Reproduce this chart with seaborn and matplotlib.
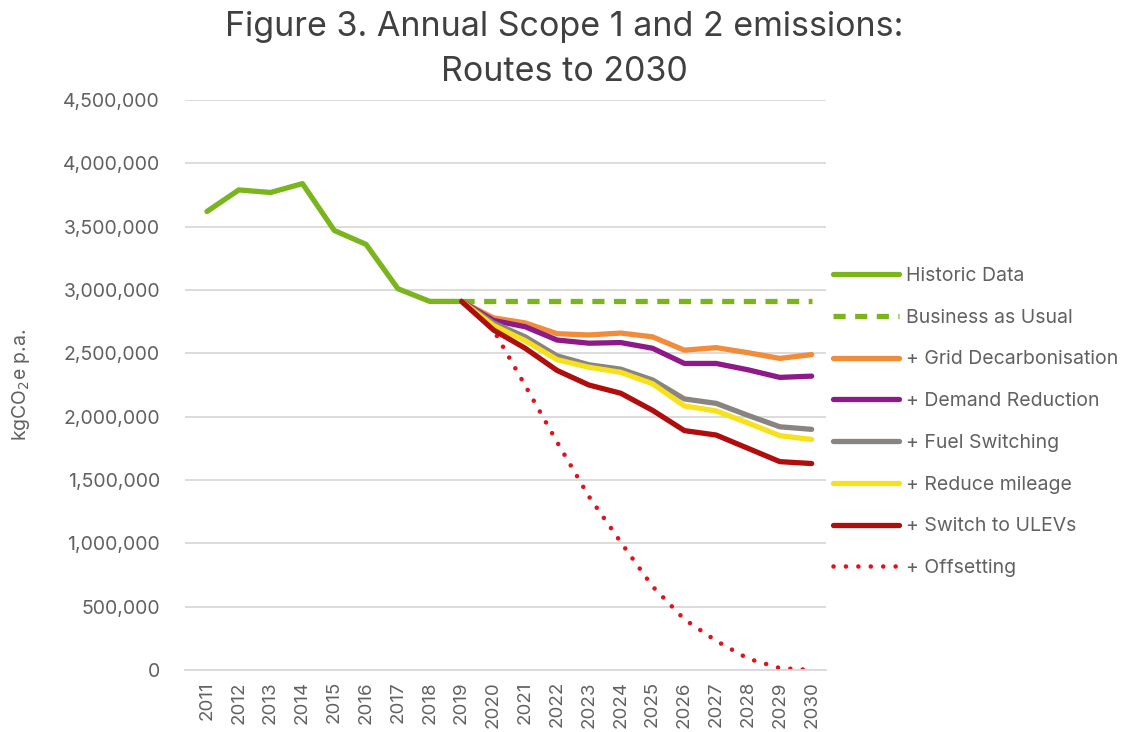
import matplotlib
matplotlib.use("Agg")
import matplotlib.pyplot as plt
import matplotlib.ticker as mticker
from matplotlib.lines import Line2D
import seaborn as sns

# Annual Scope 1 and 2 emissions (kgCO2e p.a.)
hist_years = list(range(2011, 2020))
historic = [3620000, 3790000, 3770000, 3840000, 3470000, 3360000, 3010000, 2910000, 2910000]

proj_years = list(range(2019, 2031))
business_as_usual = [2910000] * 12
grid_decarb = [2910000, 2780000, 2740000, 2655000, 2645000, 2660000, 2630000, 2525000, 2545000, 2505000, 2460000, 2490000]
demand_red = [2910000, 2760000, 2710000, 2605000, 2580000, 2585000, 2540000, 2420000, 2420000, 2370000, 2310000, 2320000]
fuel_switch = [2910000, 2740000, 2630000, 2480000, 2410000, 2375000, 2290000, 2140000, 2105000, 2010000, 1920000, 1900000]
reduce_mileage = [2910000, 2720000, 2600000, 2450000, 2390000, 2350000, 2260000, 2085000, 2045000, 1950000, 1850000, 1820000]
switch_ulev = [2910000, 2685000, 2540000, 2365000, 2250000, 2185000, 2050000, 1890000, 1855000, 1750000, 1645000, 1630000]
offsetting = [2910000, 2685000, 2245000, 1800000, 1370000, 1010000, 660000, 400000, 230000, 90000, 15000, 0]

series_labels = ["Historic Data", "Business as Usual", "+ Grid Decarbonisation",
                 "+ Demand Reduction", "+ Fuel Switching", "+ Reduce mileage",
                 "+ Switch to ULEVs", "+ Offsetting"]
series_colors = ["#7ab51d", "#7ab51d", "#f08c3a", "#8e1a8a", "#8a8481",
                 "#f7e01c", "#b00d0d", "#e0121c"]

sns.set_theme(style="white")
plt.rcParams["font.family"] = ["Inter", "DejaVu Sans"]
text_grey = "#616161"

fig = plt.figure(figsize=(11.27, 7.32), dpi=100)
ax = fig.add_axes([185 / 1127, 1 - 670 / 732, (826 - 185) / 1127, (670 - 100) / 732])

lw = 3.8
dash = (0, (2.3, 1.8))
dots = (0, (0.01, 2.7))
# offsetting drawn underneath the other routes
sns.lineplot(x=proj_years, y=offsetting, ax=ax, color=series_colors[7], lw=3.3,
             linestyle=dots, dash_capstyle="round", zorder=2, legend=False)
sns.lineplot(x=hist_years, y=historic, ax=ax, color=series_colors[0], lw=lw,
             solid_capstyle="round", zorder=3, legend=False)
sns.lineplot(x=proj_years, y=business_as_usual, ax=ax, color=series_colors[1], lw=lw,
             linestyle=dash, zorder=3, legend=False)
proj = [grid_decarb, demand_red, fuel_switch, reduce_mileage, switch_ulev]
for i, vals in enumerate(proj):
    sns.lineplot(x=proj_years, y=vals, ax=ax, color=series_colors[2 + i], lw=lw,
                 solid_capstyle="round", zorder=4 + i, legend=False)

ax.set_xlim(2010.31, 2030.45)
ax.set_ylim(0, 4500000)
ax.set_xticks(list(range(2011, 2031)))
ax.set_yticks(range(0, 4500001, 500000))
ax.yaxis.set_major_formatter(mticker.FuncFormatter(lambda v, p: f"{int(v):,}"))
ax.grid(axis="y", color="#d9d9d9", lw=1.3)
ax.grid(axis="x", visible=False)
for s in ["top", "right", "left"]:
    ax.spines[s].set_visible(False)
ax.spines["bottom"].set_color("#d9d9d9")
ax.spines["bottom"].set_linewidth(1.3)
ax.tick_params(axis="x", labelrotation=90, labelsize=13.5, colors=text_grey, length=0, pad=8)
ax.tick_params(axis="y", labelsize=14, colors=text_grey, length=0, pad=18)
ax.set_xlabel("")
ax.set_ylabel("kgCO$_2$e p.a.", fontsize=14, color=text_grey, labelpad=22)

fig.text(0.501, 1 - 27 / 732, "Figure 3. Annual Scope 1 and 2 emissions:",
         ha="center", va="center", fontsize=24.5, color="#404040")
fig.text(0.501, 1 - 72 / 732, "Routes to 2030",
         ha="center", va="center", fontsize=24.5, color="#404040")

# legend
handles = [
    Line2D([], [], color=series_colors[0], lw=lw),
    Line2D([], [], color=series_colors[1], lw=lw, linestyle=dash),
    Line2D([], [], color=series_colors[2], lw=lw),
    Line2D([], [], color=series_colors[3], lw=lw),
    Line2D([], [], color=series_colors[4], lw=lw),
    Line2D([], [], color=series_colors[5], lw=lw),
    Line2D([], [], color=series_colors[6], lw=lw),
    Line2D([], [], color=series_colors[7], lw=3.3, linestyle=dots, dash_capstyle="round"),
]
leg = fig.legend(handles, series_labels, loc="upper left",
                 bbox_to_anchor=(833 / 1127, 1 - 267 / 732), frameon=False,
                 fontsize=14, handlelength=3.4, handletextpad=0.35,
                 labelspacing=1.22, borderaxespad=0, borderpad=0)
for t in leg.get_texts():
    t.set_color(text_grey)

fig.savefig("out.png", dpi=100)
